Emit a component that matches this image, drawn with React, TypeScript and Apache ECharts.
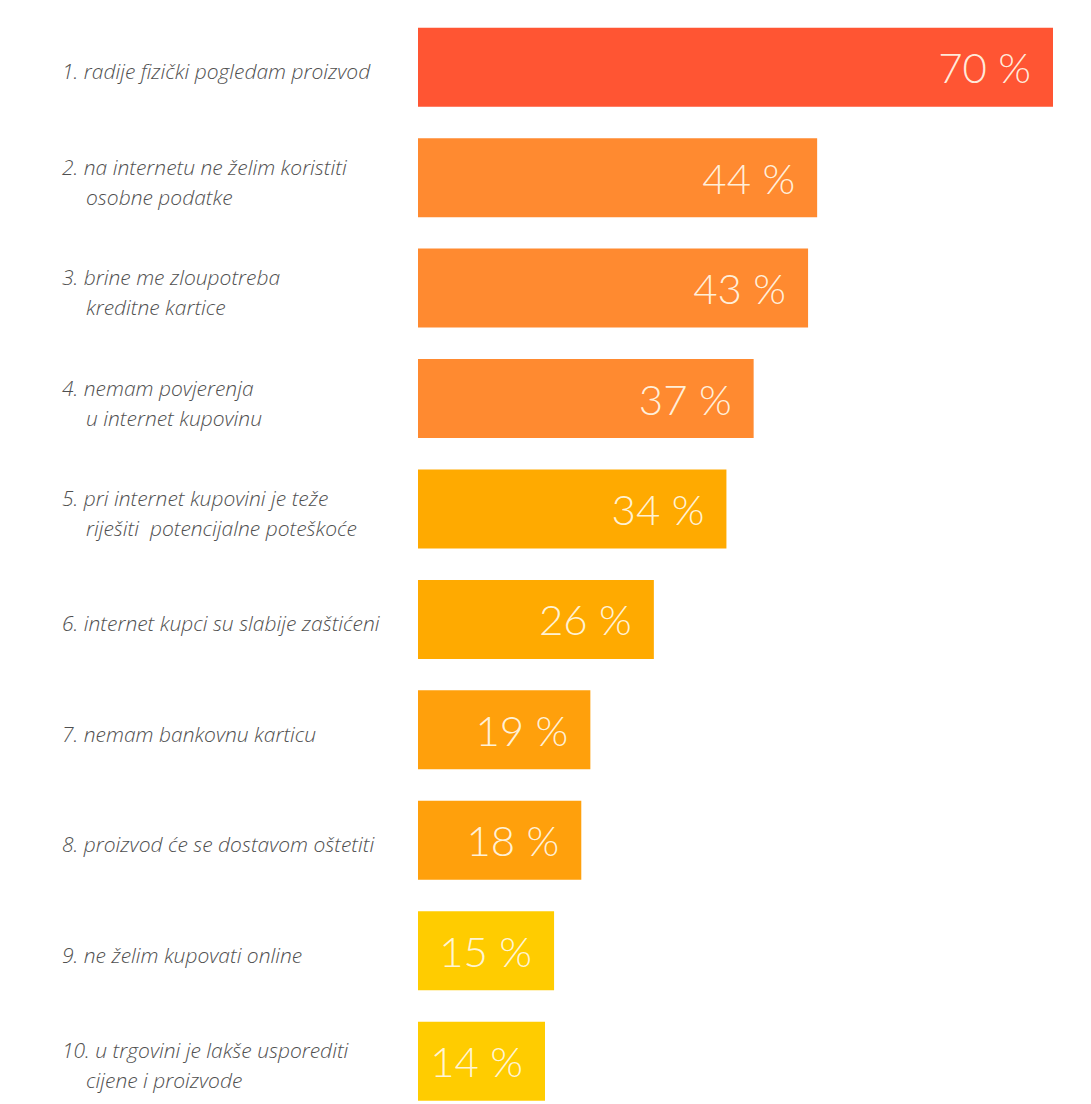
import React, { useEffect, useRef } from "react";
import * as echarts from "echarts";

const categories: string[] = [
  "1. radije fizički pogledam proizvod",
  "2. na internetu ne želim koristiti|osobne podatke",
  "3. brine me zloupotreba|kreditne kartice",
  "4. nemam povjerenja|u internet kupovinu",
  "5. pri internet kupovini je teže|riješiti  potencijalne poteškoće",
  "6. internet kupci su slabije zaštićeni",
  "7. nemam bankovnu karticu",
  "8. proizvod će se dostavom oštetiti",
  "9. ne želim kupovati online",
  "10. u trgovini je lakše usporediti|cijene i proizvode",
];

const values: number[] = [70, 44, 43, 37, 34, 26, 19, 18, 15, 14];

const barColors: string[] = [
  "#FF5533",
  "#FF8A30",
  "#FF8A30",
  "#FF8A30",
  "#FFAA00",
  "#FFAA00",
  "#FFA00C",
  "#FFA00C",
  "#FFCC00",
  "#FFCC00",
];

const labelFont = {
  fontFamily: "Open Sans",
  fontStyle: "italic",
  fontWeight: 300,
  fontSize: 21,
  color: "#505050",
  lineHeight: 30,
};

export default function App() {
  const ref = useRef<HTMLDivElement>(null);
  useEffect(() => {
    if (!ref.current) return;
    const chart = echarts.init(ref.current, undefined, { renderer: "svg" });
    chart.setOption({
      animation: false,
      backgroundColor: "#ffffff",
      grid: { left: 418, right: 38, top: 12, height: 1104.4, containLabel: false },
      xAxis: {
        type: "value",
        min: 0,
        max: 70,
        show: false,
      },
      yAxis: {
        type: "category",
        inverse: true,
        data: categories,
        axisLine: { show: false },
        axisTick: { show: false },
        splitLine: { show: false },
        axisLabel: {
          align: "left",
          margin: 356,
          padding: [8, 0, 0, 0],
          ...labelFont,
          formatter: (v: string) => {
            const parts = v.split("|");
            if (parts.length === 1) return parts[0];
            return parts[0] + "\n{ind|" + parts[1] + "}";
          },
          rich: {
            ind: {
              padding: [0, 0, 0, 24],
              ...labelFont,
            },
          },
        },
      },
      series: [
        {
          type: "bar",
          barWidth: 79,
          data: values.map((v, i) => ({ value: v, itemStyle: { color: barColors[i] } })),
          label: {
            show: true,
            position: "insideRight",
            distance: 22,
            formatter: (p: any) => p.value + " %",
            fontFamily: "Lato",
            fontWeight: 300,
            fontSize: 42,
            color: "rgba(255,250,235,0.92)",
          },
        },
      ],
    });
    return () => chart.dispose();
  }, []);
  return (
    <div style={{ position: "absolute", left: 0, top: 0, width: 1091, height: 1104, overflow: "hidden" }}>
      <div ref={ref} style={{ width: 1091, height: 1130 }} />
    </div>
  );
}
